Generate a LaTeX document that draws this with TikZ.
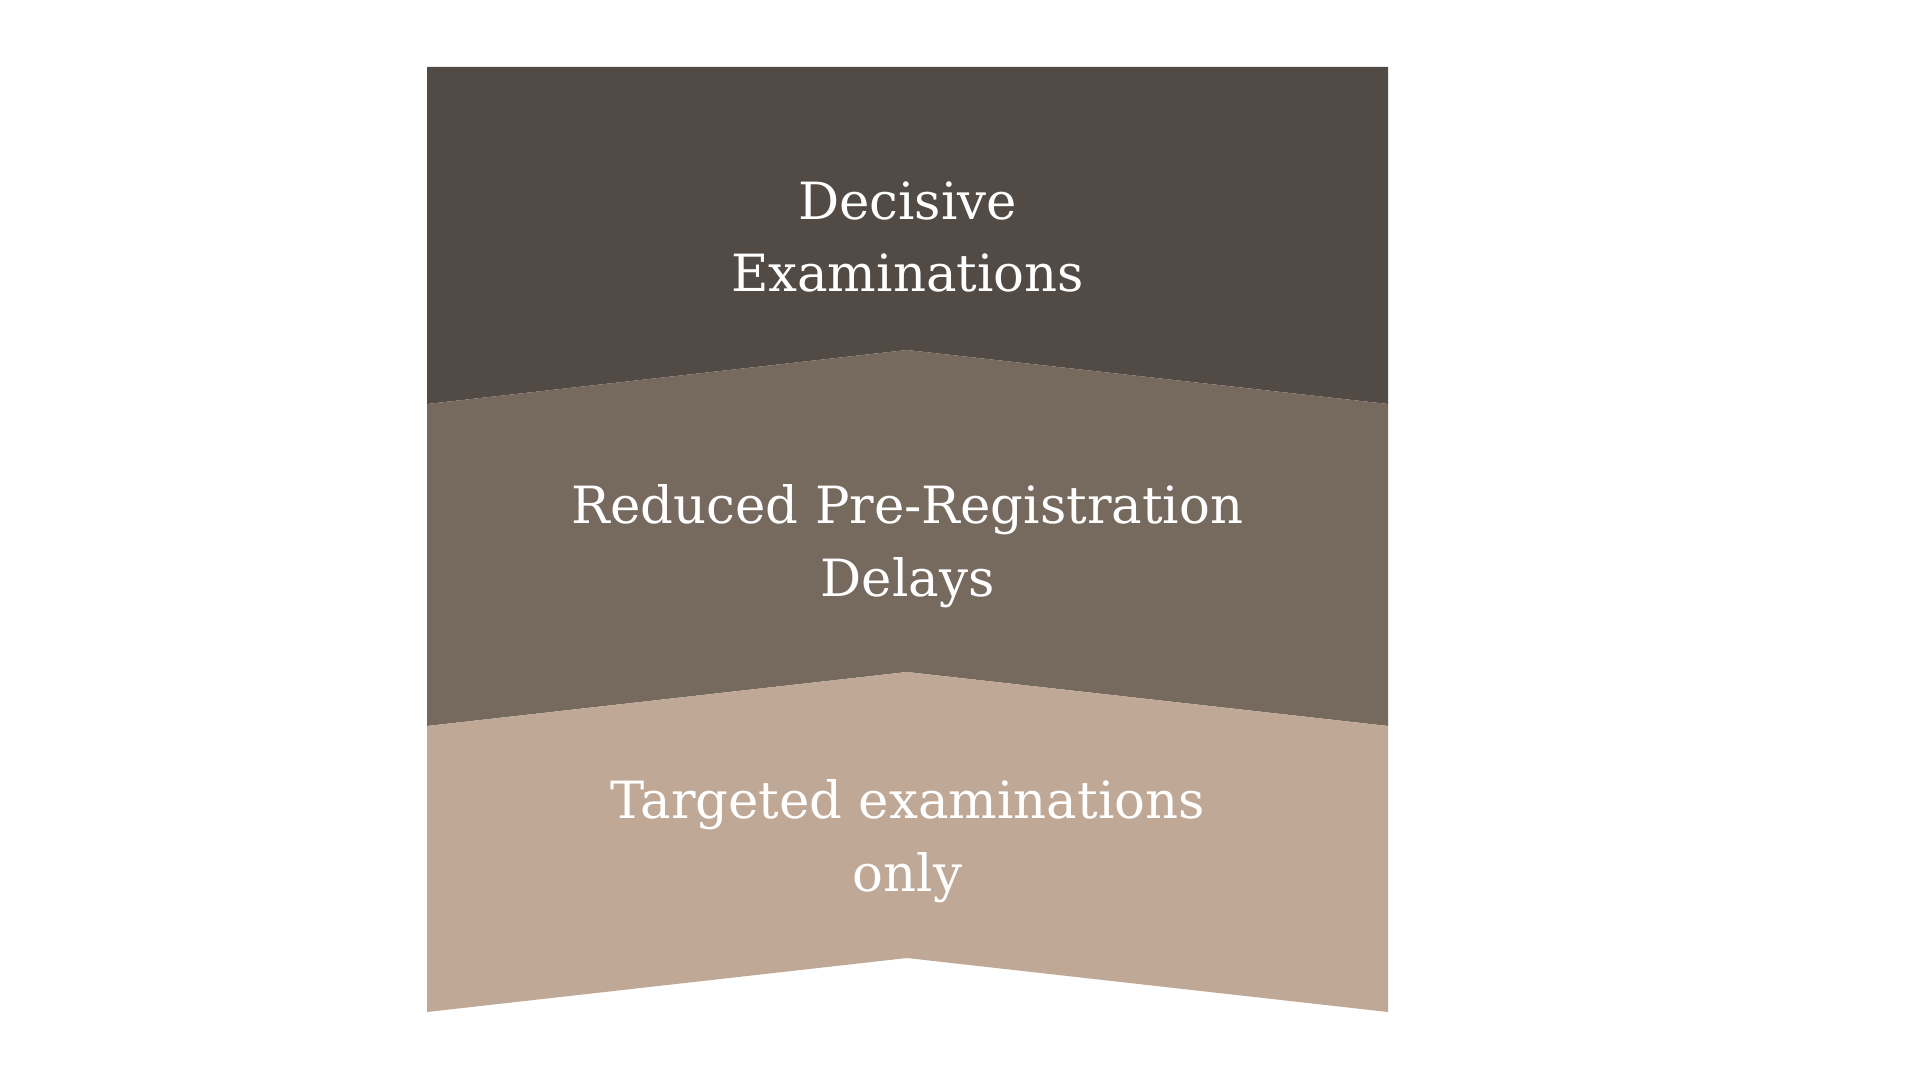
\documentclass[tikz,border=0pt]{standalone}
\usepackage{fontspec}
\setmainfont{DejaVu Serif}
\definecolor{bandA}{HTML}{524A44}
\definecolor{bandB}{HTML}{766A5E}
\definecolor{bandC}{HTML}{BFA896}
\begin{document}
\begin{tikzpicture}[
  band/.style={draw=none},
  lbl/.style={text=white, align=center, font=\fontsize{14.6pt}{20.7pt}\selectfont, inner sep=0pt}
]
\useasboundingbox (0,0) rectangle (19.2,-10.8);
\fill[white] (0,0) rectangle (19.2,-10.8);
\fill[bandA] (4.27,-0.67) -- (13.88,-0.67) -- (13.88,-4.04) -- (9.07,-3.50) -- (4.27,-4.04) -- cycle;
\fill[bandB] (4.27,-4.04) -- (9.07,-3.50) -- (13.88,-4.04) -- (13.88,-7.26) -- (9.07,-6.72) -- (4.27,-7.26) -- cycle;
\fill[bandC] (4.27,-7.26) -- (9.07,-6.72) -- (13.88,-7.26) -- (13.88,-10.12) -- (9.07,-9.58) -- (4.27,-10.12) -- cycle;
\node[lbl] (t1) at (9.075,-2.37) {Decisive\\Examinations};
\node[lbl] (t2) at (9.075,-5.46) {Reduced Pre-Registration\\Delays};
\node[lbl] (t3) at (9.075,-8.41) {Targeted examinations\\only};
\end{tikzpicture}
\end{document}
